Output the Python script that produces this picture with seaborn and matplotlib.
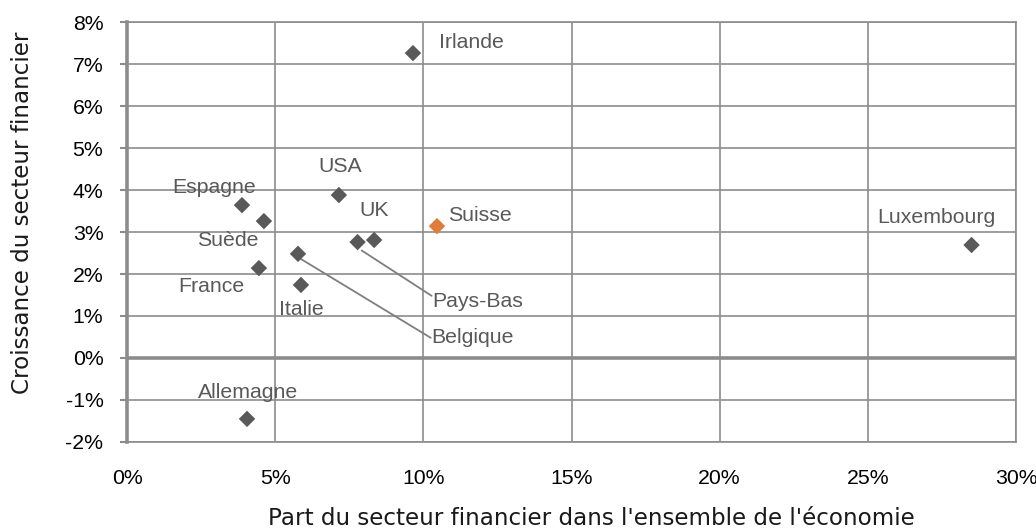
import matplotlib
matplotlib.use("Agg")
import matplotlib.pyplot as plt
import seaborn as sns
import pandas as pd
from matplotlib.ticker import FuncFormatter, MultipleLocator

# Share of the financial sector in the economy (%) and its growth (%)
pays = ["Irlande", "Espagne", "Suède", "USA", "UK", "Pays-Bas", "Suisse",
        "Belgique", "France", "Italie", "Allemagne", "Luxembourg"]
part = [9.65, 3.88, 4.62, 7.15, 8.34, 7.78, 10.46, 5.77, 4.45, 5.87, 4.05, 28.5]
croissance = [7.26, 3.64, 3.26, 3.88, 2.81, 2.76, 3.14, 2.48, 2.14, 1.74, -1.45, 2.69]
groupe = ["autre"] * 6 + ["Suisse"] + ["autre"] * 5

df = pd.DataFrame({"pays": pays, "part": part, "croissance": croissance, "groupe": groupe})

sns.set_style("white")
plt.rcParams["font.family"] = ["Liberation Sans", "DejaVu Sans"]

fig = plt.figure(figsize=(10.36, 5.28), dpi=100)
ax = fig.add_axes([0.1226, 0.1629, 0.8581, 0.7954])

grid_c = "#8c8c8c"
sns.scatterplot(data=df, x="part", y="croissance", hue="groupe",
                palette={"autre": "#595959", "Suisse": "#e07b39"},
                marker="D", s=70, edgecolor="none", legend=False, ax=ax, zorder=3)

ax.set_xlim(0, 30)
ax.set_ylim(-2, 8)
ax.xaxis.set_major_locator(MultipleLocator(5))
ax.yaxis.set_major_locator(MultipleLocator(1))
ax.xaxis.set_major_formatter(FuncFormatter(lambda v, p: f"{v:.0f}%"))
ax.yaxis.set_major_formatter(FuncFormatter(lambda v, p: f"{v:.0f}%"))
ax.grid(True, color=grid_c, linewidth=1.2)
ax.set_axisbelow(True)
ax.axhline(0, color=grid_c, linewidth=2.6, zorder=1)

for side in ["top", "right", "bottom"]:
    ax.spines[side].set_color(grid_c)
    ax.spines[side].set_linewidth(1.2)
ax.spines["left"].set_color(grid_c)
ax.spines["left"].set_linewidth(2.6)

tick_fs = 15.3
ax.tick_params(axis="y", which="major", left=True, length=5, width=1.5,
               color=grid_c, labelsize=tick_fs, pad=12, labelcolor="#000000")
ax.tick_params(axis="x", which="major", bottom=False, labelsize=tick_fs, pad=16,
               labelcolor="#000000")

title_font = dict(family=["DejaVu Sans"], size=16.6, color="#1a1a1a")
ax.set_xlabel("Part du secteur financier dans l'ensemble de l'économie",
              va="baseline", ha="left", **title_font)
ax.xaxis.set_label_coords(0.1586, -0.197)
ax.set_ylabel("Croissance du secteur financier", va="center", **title_font)
ax.yaxis.set_label_coords(-0.118, 0.545)

lab_c = "#595959"
fs = 15.3
# Centred country labels (x centre, baseline)
labels = {
    "Espagne": (2.95, 3.94),
    "USA": (7.2, 4.44),
    "UK": (8.33, 3.38),
    "Suède": (3.4, 2.67),
    "France": (2.86, 1.56),
    "Italie": (5.87, 1.02),
    "Luxembourg": (27.32, 3.21),
    "Allemagne": (4.08, -0.96),
}
for name, (lx, ly) in labels.items():
    ax.text(lx, ly, name, ha="center", va="baseline", fontsize=fs, color=lab_c)

# Left-aligned country labels (left edge, baseline)
labels_left = {
    "Irlande": (10.54, 7.37),
    "Suisse": (10.83, 3.26),
}
for name, (lx, ly) in labels_left.items():
    ax.text(lx, ly, name, ha="left", va="baseline", fontsize=fs, color=lab_c)

# Labels with leader lines
leaders = {
    "Pays-Bas": ((7.92, 2.56), (10.28, 1.48), (10.29, 1.22)),
    "Belgique": ((5.84, 2.37), (10.25, 0.48), (10.28, 0.36)),
}
for name, (p0, p1, tp) in leaders.items():
    ax.plot([p0[0], p1[0]], [p0[1], p1[1]], color="#7f7f7f", linewidth=1.3, zorder=2)
    ax.text(tp[0], tp[1], name, ha="left", va="baseline", fontsize=fs, color=lab_c)

fig.savefig("out.png", dpi=100)
